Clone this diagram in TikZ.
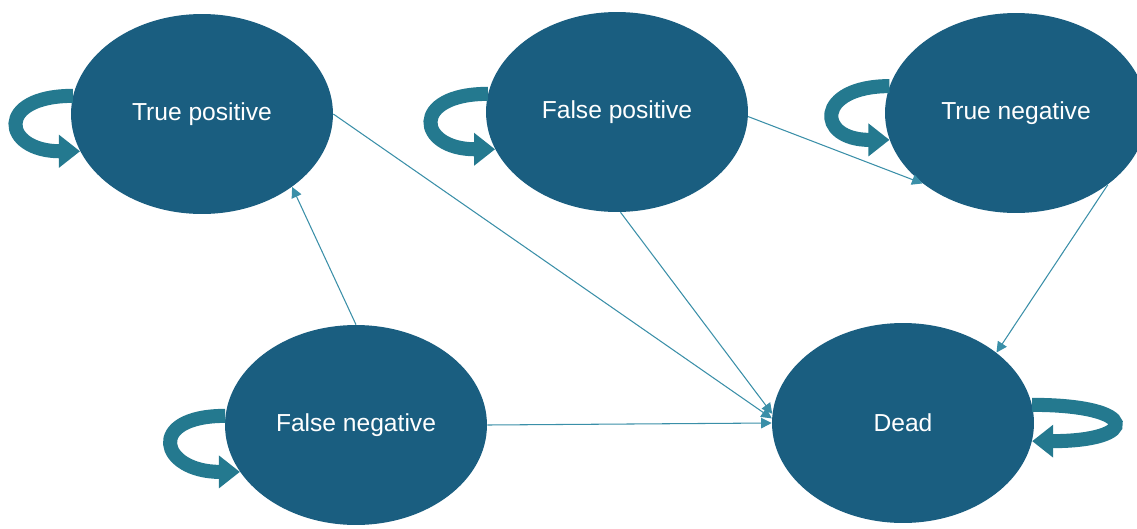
\documentclass[tikz,border=0pt]{standalone}
\usepackage{fontspec}
\setsansfont{Liberation Sans}
\usetikzlibrary{arrows.meta,shapes.geometric}
\definecolor{cState}{HTML}{1A5E80}
\definecolor{cLoop}{HTML}{24798F}
\definecolor{cLine}{HTML}{3A8FA8}

\begin{document}
\begin{tikzpicture}[
  x=0.02cm, y=-0.02cm,
  every node/.style={font=\sffamily},
  state/.style={ellipse, fill=cState, text=white, inner sep=0pt, minimum width=5.24cm, minimum height=4cm, font=\sffamily\fontsize{14}{17}\selectfont},
  trans/.style={draw=cLine, line width=0.6pt, -{Triangle[length=6pt,width=6pt]}},
  loopback/.style={draw=cLoop, line width=8pt, -{Triangle[length=12pt,width=18pt]}},
]

\useasboundingbox (0,0) rectangle (1137,528);

\node[state] (tp) at (202,114) {True positive};
\node[state] (fp) at (617,112) {False positive};
\node[state] (tn) at (1016,113) {True negative};
\node[state] (fn) at (356,425) {False negative};
\node[state] (dead) at (903,423) {Dead};

% staying in the same state
\draw[loopback] (tp.172) .. controls +(-78,0) and +(-78,0) .. (tp.197);
\draw[loopback] (fp.172) .. controls +(-78,0) and +(-78,0) .. (fp.197);
\draw[loopback] (tn.168) .. controls +(-74,0) and +(-74,0) .. (tn.192);
\draw[loopback] (fn.176) .. controls +(-80,0) and +(-80,0) .. (fn.202);
\draw[loopback] (dead.8) .. controls +(108,0) and +(108,0) .. (dead.352);

% moving between states
\draw[trans] (tp.0) -- (dead.178);
\draw[trans] (fp.272) -- (dead.176);
\draw[trans] (fp.358) -- (tn.217);
\draw[trans] (tn.322) -- (dead.37);
\draw[trans] (fn.north) -- (tp.321);
\draw[trans] (fn.east) -- (dead.west);

\end{tikzpicture}
\end{document}
